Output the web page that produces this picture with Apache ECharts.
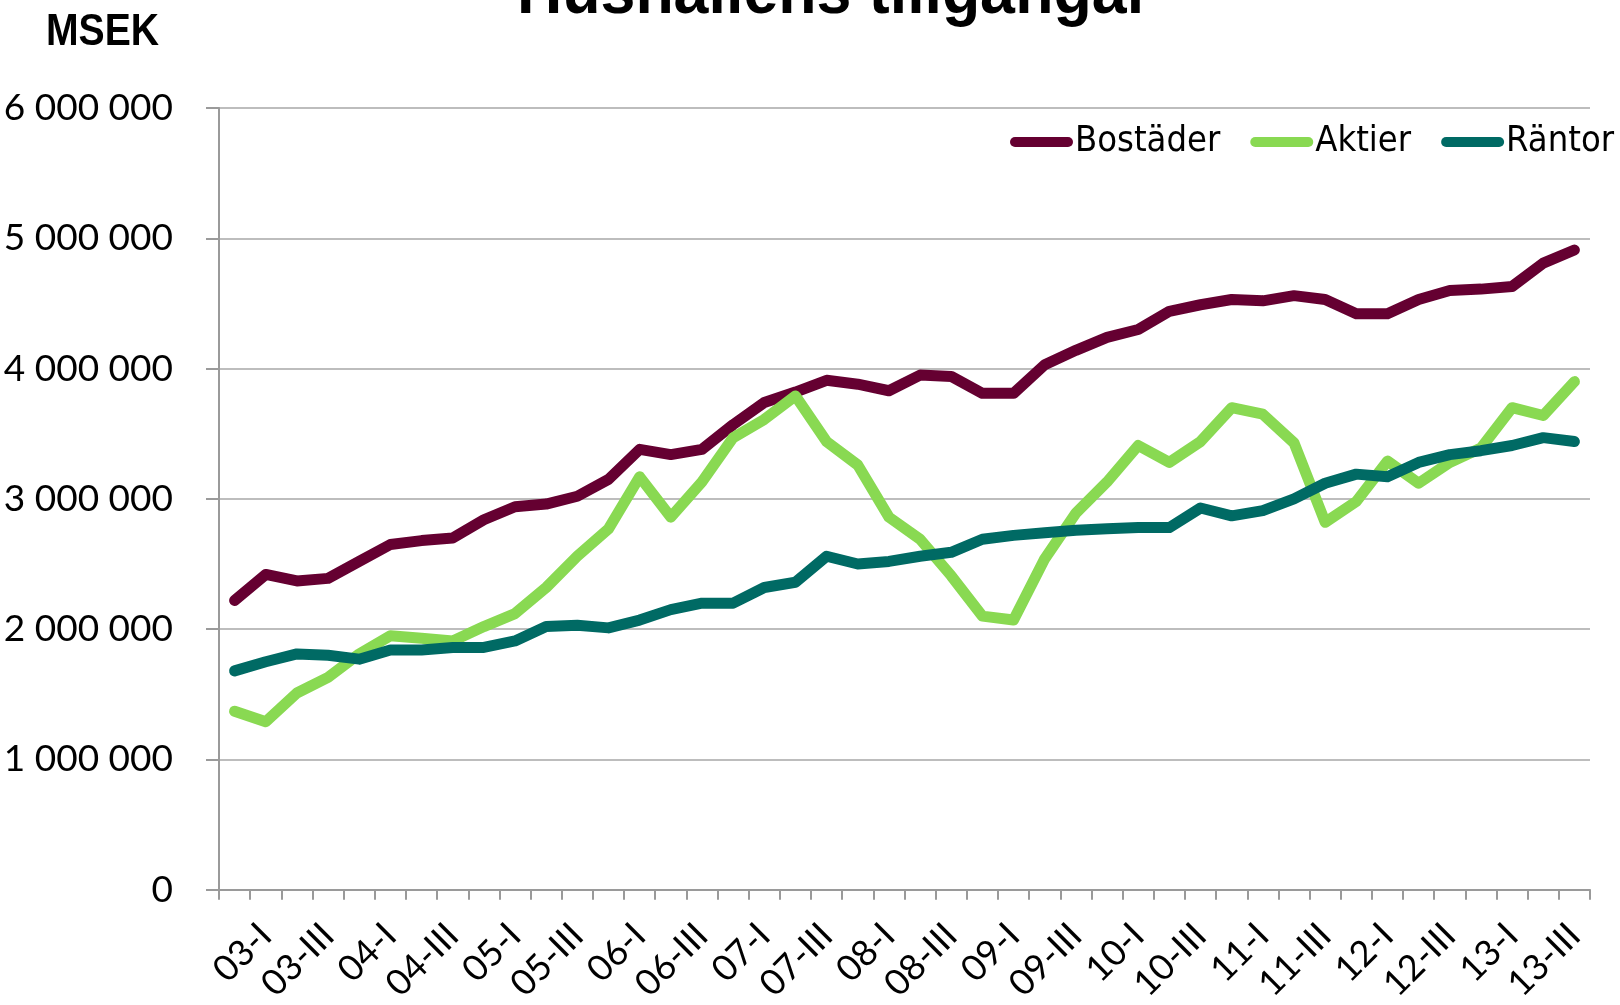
<!DOCTYPE html>
<html>
<head>
<meta charset="utf-8">
<script src="https://cdn.jsdelivr.net/npm/echarts@6/dist/echarts.min.js"></script>
<style>
html,body{margin:0;padding:0;background:#fff;}
#chart{width:1620px;height:1005px;}
</style>
</head>
<body>
<div id="chart"></div>
<script>
const categories = ['02-IV',
  '03-I','03-II','03-III','03-IV','04-I','04-II','04-III','04-IV',
  '05-I','05-II','05-III','05-IV','06-I','06-II','06-III','06-IV',
  '07-I','07-II','07-III','07-IV','08-I','08-II','08-III','08-IV',
  '09-I','09-II','09-III','09-IV','10-I','10-II','10-III','10-IV',
  '11-I','11-II','11-III','11-IV','12-I','12-II','12-III','12-IV',
  '13-I','13-II','13-III'];

const bostader = [2220000,2420000,2370000,2390000,2520000,2650000,2680000,2700000,2840000,2940000,
  2960000,3020000,3150000,3380000,3340000,3380000,3570000,3740000,3820000,3910000,
  3880000,3830000,3950000,3940000,3810000,3810000,4030000,4140000,4240000,4300000,
  4440000,4490000,4530000,4520000,4560000,4530000,4420000,4420000,4530000,4600000,
  4610000,4630000,4810000,4910000];

const aktier = [1370000,1290000,1510000,1630000,1810000,1950000,1930000,1910000,2020000,2120000,
  2320000,2560000,2770000,3170000,2860000,3130000,3470000,3610000,3790000,3440000,
  3260000,2860000,2690000,2410000,2100000,2070000,2540000,2890000,3130000,3410000,
  3280000,3440000,3700000,3650000,3430000,2820000,2980000,3290000,3120000,3280000,
  3390000,3700000,3640000,3900000];

const rantor = [1680000,1750000,1810000,1800000,1770000,1840000,1840000,1860000,1860000,1910000,
  2020000,2030000,2010000,2070000,2150000,2200000,2200000,2320000,2360000,2560000,
  2500000,2520000,2560000,2590000,2690000,2720000,2740000,2760000,2770000,2780000,
  2780000,2930000,2870000,2910000,3000000,3120000,3190000,3170000,3280000,3340000,
  3370000,3410000,3470000,3440000];

const seriesNames = ['Bostäder','Aktier','Räntor'];
const seriesColors = ['#650031','#89d952','#006a64'];
const yTicks = [0,1000000,2000000,3000000,4000000,5000000,6000000];

function fmt(v){
  return String(Math.round(v)).replace(/\B(?=(\d{3})+(?!\d))/g, ' ');
}

const chart = echarts.init(document.getElementById('chart'), null, {renderer:'canvas'});
const legendIcon = 'path://M5,0 L58,0 A5,5 0 0 1 58,10 L5,10 A5,5 0 0 1 5,0 Z';
const condensed = '"DejaVu Sans Condensed", "Liberation Sans", sans-serif';

const option = {
  animation: false,
  backgroundColor: '#ffffff',
  graphic: [
    {type:'text', x:834, y:-5, scaleX:0.95, style:{text:'Hushållens tillgångar', font:'900 66px "Liberation Sans"', fill:'#000', textAlign:'center', textVerticalAlign:'middle'}},
    {type:'text', x:46, y:33, scaleX:0.89, style:{text:'MSEK', font:'bold 44px "Liberation Sans"', fill:'#000', textAlign:'left', textVerticalAlign:'middle'}}
  ],
  legend: {
    right: 6, top: 120, padding: 0,
    itemWidth: 63, itemHeight: 10, itemGap: 30,
    icon: legendIcon,
    textStyle: {fontFamily: condensed, fontSize: 36, color:'#000', lineHeight: 44, padding:[0,0,0,-3]},
    data: seriesNames
  },
  grid: {left: 219, right: 30, top: 108, bottom: 98, containLabel: false},
  xAxis: {
    type: 'category',
    data: categories,
    boundaryGap: true,
    axisLine: {show:true, lineStyle:{color:'#9a9a9a', width:2}},
    axisTick: {show:true, interval:0, length:10, lineStyle:{color:'#9a9a9a', width:2}},
    axisLabel: {
      interval: function(idx){ return idx % 2 === 1; },
      rotate: 45, margin: 40,
      fontFamily: 'Lato', fontSize: 36, color:'#000'
    },
    splitLine: {show:false}
  },
  yAxis: {
    type: 'value',
    min: yTicks[0], max: yTicks[yTicks.length-1], interval: 1000000,
    axisLine: {show:true, lineStyle:{color:'#9a9a9a', width:2}},
    axisTick: {show:true, length:13, lineStyle:{color:'#9a9a9a', width:2}},
    axisLabel: {margin: 46, fontFamily:'Lato', fontSize:37, color:'#000', formatter: fmt},
    splitLine: {show:true, lineStyle:{color:'#bdbdbd', width:2}}
  },
  series: [
    {name: seriesNames[0], type:'line', data: bostader, showSymbol:false, symbol:'none', color: seriesColors[0],
      lineStyle:{width:11, color: seriesColors[0], cap:'round', join:'round'}},
    {name: seriesNames[1], type:'line', data: aktier, showSymbol:false, symbol:'none', color: seriesColors[1],
      lineStyle:{width:11, color: seriesColors[1], cap:'round', join:'round'}},
    {name: seriesNames[2], type:'line', data: rantor, showSymbol:false, symbol:'none', color: seriesColors[2],
      lineStyle:{width:11, color: seriesColors[2], cap:'round', join:'round'}}
  ]
};
chart.setOption(option);
</script>
</body>
</html>
